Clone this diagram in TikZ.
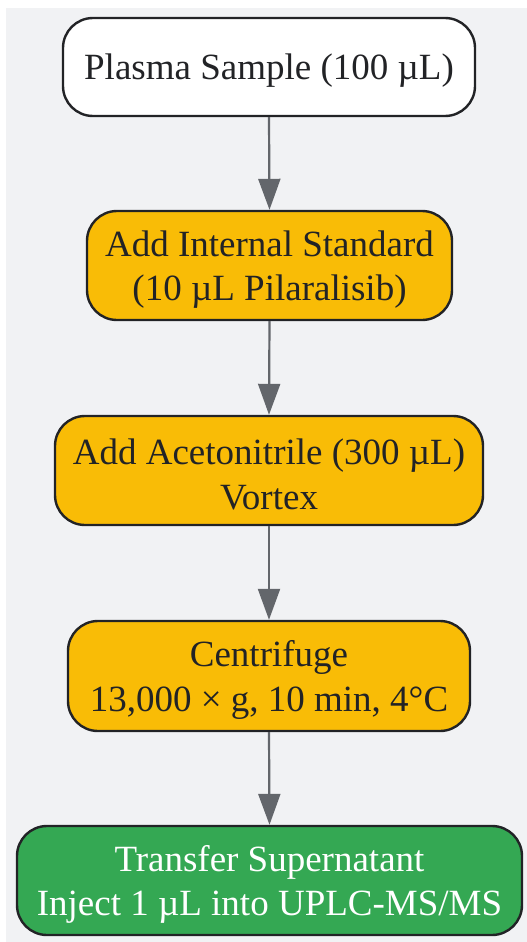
\documentclass[tikz,border=0pt]{standalone}
\usepackage{fontspec}
\setmainfont{Liberation Serif}
\usetikzlibrary{arrows.meta}
\definecolor{bgc}{HTML}{F1F2F4}
\definecolor{yel}{HTML}{F9BC06}
\definecolor{grn}{HTML}{34A853}
\definecolor{edge}{HTML}{222326}
\definecolor{arr}{HTML}{63666B}
\tikzset{
  box/.style={draw=edge, line width=2.4pt, rounded corners=30pt, inner sep=0pt},
  txt/.style={font=\fontsize{37}{44.5}\selectfont, align=center, text=edge, inner sep=0pt},
  flow/.style={draw=arr, line width=2.2pt, -{Triangle[length=31pt,width=22pt]}}
}
\begin{document}
\begin{tikzpicture}[x=1pt,y=-1pt]
\useasboundingbox (0,0) rectangle (527,942);
\fill[bgc] (6,8) rectangle (527,942);
\node[box, fill=white, minimum width=412pt, minimum height=98pt] (n1) at (269,67) {};
\node[box, fill=yel, minimum width=365pt, minimum height=109pt] (n2) at (269.5,265.5) {};
\node[box, fill=yel, minimum width=428pt, minimum height=109pt] (n3) at (269,470.5) {};
\node[box, fill=yel, minimum width=402pt, minimum height=110pt] (n4) at (269,676) {};
\node[box, fill=grn, minimum width=505pt, minimum height=109pt] (n5) at (269.5,880.5) {};
\node[txt] (t1) at ([yshift=-3.5pt]n1.center) {Plasma Sample (100 µL)};
\node[txt] (t2) at ([yshift=-4pt]n2.center) {Add Internal Standard\\(10 µL Pilaralisib)};
\node[txt] (t3) at ([yshift=-4pt]n3.center) {Add Acetonitrile (300 µL)\\Vortex};
\node[txt] (t4) at ([yshift=-4pt]n4.center) {Centrifuge\\13,000 × g, 10 min, 4°C};
\node[txt, text=white] (t5) at ([yshift=-4pt]n5.center) {Transfer Supernatant\\Inject 1 µL into UPLC-MS/MS};
\draw[flow] (n1.south) -- (n2.north);
\draw[flow] (n2.south) -- (n3.north);
\draw[flow] (n3.south) -- (n4.north);
\draw[flow] (n4.south) -- (n5.north);
\end{tikzpicture}
\end{document}
